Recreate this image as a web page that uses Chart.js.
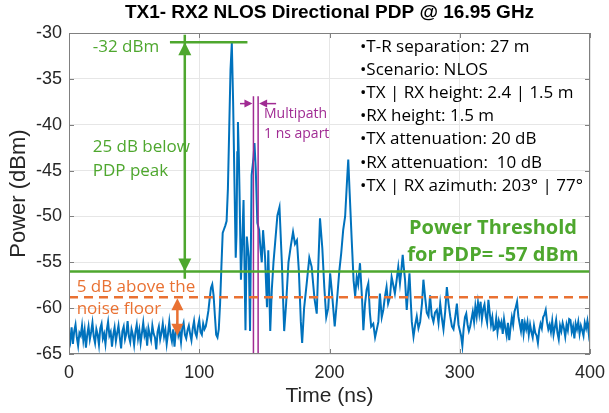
<!DOCTYPE html>
<html>
<head>
<meta charset="utf-8">
<script src="https://cdn.jsdelivr.net/npm/chart.js@4.4.1/dist/chart.umd.min.js"></script>
<style>
  html, body { margin: 0; padding: 0; background: #fff; }
  #wrap { width: 609px; height: 413px; }
</style>
</head>
<body>
<div id="wrap"><canvas id="pdpChart" width="609" height="413"></canvas></div>
<script>
// === Data ===
// noise before the first arrival, one sample per ns from 0 to 104 ns
const headPower = [
  -62.8,-63.6,-62.1,-63.9,-62.5,-61.8,-63.2,-64.1,-62.7,-63.0,
  -61.9,-63.5,-62.4,-64.3,-62.9,-62.0,-63.4,-62.6,-61.6,-63.1,
  -63.8,-62.3,-62.9,-64.0,-62.2,-61.7,-63.3,-62.8,-63.9,-62.4,
  -61.5,-63.0,-62.6,-64.2,-62.9,-62.1,-63.6,-62.7,-61.9,-63.2,
  -64.4,-62.5,-62.0,-63.4,-62.8,-61.4,-63.1,-63.7,-62.3,-62.9,
  -64.0,-62.6,-61.8,-63.3,-62.4,-63.8,-62.7,-61.6,-63.0,-62.5,
  -64.1,-62.2,-62.9,-63.5,-61.9,-62.8,-63.2,-64.5,-62.6,-62.0,
  -63.4,-62.7,-61.7,-63.1,-62.4,-63.9,-62.8,-61.5,-62.9,-63.6,
  -62.3,-64.2,-62.6,-61.8,-63.0,-62.5,-63.7,-62.1,-61.6,-62.9,
  -63.3,-62.4,-61.9,-62.8,-63.5,-62.2,-61.4,-62.7,-63.1,-62.0,
  -61.3,-62.6,-62.9,-61.7,-62.3
];

// multipath burst, uneven time steps (ns) around the peaks
const burstTime = [
  105,106,107,108,109,110,111,112,113,114,
  115,116,117,118,119,120,121,122,123,124,
  125,126,127,128,128.6,129.2,129.7,130.4,131,132,
  133,134,135,135.5,136.5,138,139,140.2,141,141.7,
  142.4,143.4,144.6,146,147,148,149,150.5,152,153,
  154.5,155.7,157,158.3,160,161.6,163.4,165.2,166.7,168.5,
  170.3,172,173.5,175,176.5,178,179,180.5,182.5,184.5,
  186.3,188.5,190.2,191.5,192.7,194.5,196,197.5,199,200.5,
  202,204,206,207.5,209,210.5,212,213.5,214.4,215.5,
  217,218.5,219.7,220.9,222,223.4,225,226,227.3,228.5,
  229.8,231,232,233.6,235,236.2,237.5,238.7,240.1,241.3,
  242.5,243.8,245,246.4,247.7,249,250.2,251.5,252.8,254.1,
  255.2,256.2,257,258,259.3,260.4,261.4,262.3,263.2,264.5,
  265.8,267,268.3,269.6,271,272.1,273.4,274.7,276,277.2,
  278.5,279.8,281,282.4,283.7,285,286.2,287.5,288.8,290.1,
  291.4,292.7,294,295.2,296.5,297.8,299,300
];
const burstPower = [
  -62.0,-61.2,-60.3,-59.0,-57.8,-57.4,-58.6,-60.8,-62.9,-63.2,
  -62.3,-59.5,-55.5,-51.8,-51.4,-51.0,-50.5,-47.0,-40.5,-34.0,
  -31.1,-37.5,-46.0,-54.5,-52.0,-43.0,-39.7,-43.5,-48.0,-56.9,
  -52.8,-48.2,-58.0,-62.4,-52.2,-54.4,-62.5,-45.5,-44.5,-43.5,
  -42.0,-44.9,-50.7,-51.5,-53.5,-55.0,-51.5,-54.4,-59.9,-53.7,
  -62.5,-58.0,-55.0,-52.8,-49.9,-49.0,-55.0,-62.5,-59.5,-55.0,
  -53.2,-51.7,-53.0,-52.6,-56.0,-61.5,-63.8,-60.0,-57.3,-54.5,
  -55.5,-59.0,-60.6,-55.0,-50.2,-53.5,-57.7,-61.0,-60.0,-56.2,
  -58.5,-62.0,-58.7,-56.0,-54.0,-51.5,-50.0,-46.0,-43.8,-47.5,
  -52.4,-57.0,-58.7,-56.6,-57.4,-55.1,-59.0,-62.4,-59.5,-58.0,
  -57.3,-60.5,-62.0,-61.7,-63.2,-62.4,-61.5,-58.4,-61.0,-60.2,
  -58.8,-57.7,-59.5,-58.8,-56.6,-57.5,-58.4,-57.0,-55.5,-57.3,
  -55.8,-54.2,-55.5,-56.9,-60.2,-58.0,-56.2,-59.0,-61.5,-63.1,
  -61.8,-60.9,-62.2,-61.5,-59.5,-56.9,-58.8,-60.5,-60.9,-58.6,
  -60.8,-61.5,-60.5,-60.2,-61.6,-59.5,-61.0,-62.3,-60.4,-57.7,
  -59.5,-60.9,-62.0,-62.3,-61.0,-59.5,-61.8,-62.4
];

// noise tail, one sample per ns from 301 to 400 ns
const tailPower = [
  -63.0,-64.1,-62.2,-61.0,-60.6,-61.8,-62.5,-62.0,-61.2,-60.4,
  -61.5,-59.8,-60.9,-59.4,-60.6,-59.3,-61.2,-60.1,-59.6,-60.9,
  -61.6,-59.1,-60.5,-61.8,-61.0,-62.4,-62.3,-61.1,-62.6,-61.4,
  -62.0,-61.5,-62.8,-61.2,-62.2,-63.0,-61.6,-63.5,-62.1,-61.0,
  -61.8,-60.4,-59.9,-59.3,-60.9,-61.7,-62.5,-61.2,-62.8,-61.6,
  -62.3,-61.5,-62.9,-61.8,-62.6,-63.2,-61.9,-62.7,-63.0,-63.8,
  -62.4,-61.7,-62.2,-61.0,-60.7,-60.2,-61.5,-62.3,-61.8,-62.6,
  -61.4,-62.9,-62.1,-61.3,-62.7,-63.4,-61.9,-62.5,-61.6,-62.2,
  -63.1,-61.8,-62.4,-61.2,-61.3,-62.6,-62.0,-63.3,-61.7,-62.3,
  -61.5,-62.8,-61.9,-62.4,-63.0,-61.6,-62.2,-61.4,-62.7,-61.3
];

const xTicks = [0, 100, 200, 300, 400];
const yTicks = [-65, -60, -55, -50, -45, -40, -35, -30];

// annotation levels (dBm) and times (ns)
const peakDbm = -31;
const thresholdDbm = -56;
const noiseMarkDbm = -58.8;
const noiseFloorDbm = -63;
const peakBarTime = [77.5, 137];
const peakArrowTime = 88.9;
const noiseArrowTime = 83.2;
const multipathTime = [141.6, 145.2];
const multipathTopDbm = -36.9;
const multipathArrowDbm = -37.7;
const multipathArrowFrom = [131.3, 159];

const infoLines = [
  '•T-R separation: 27 m',
  '•Scenario: NLOS',
  '•TX | RX height: 2.4 | 1.5 m',
  '•RX height: 1.5 m',
  '•TX attenuation: 20 dB',
  '•RX attenuation:  10 dB',
  '•TX | RX azimuth: 203° | 77°'
];

const BLUE = '#0072BD';
const GREEN = '#4EA72E';
const ORANGE = '#E97132';
const PURPLE = '#A02B93';
const ANNO_FONT = "'Open Sans', sans-serif";
const AXIS_FONT = "'Liberation Sans', Arial, sans-serif";

// === Build the trace ===
const trace = []
  .concat(headPower.map((v, i) => ({ x: i, y: v })))
  .concat(burstTime.map((t, i) => ({ x: t, y: burstPower[i] })))
  .concat(tailPower.map((v, i) => ({ x: 301 + i, y: v })));

function seg(x0, y0, x1, y1, color, width, dash) {
  return {
    data: [{ x: x0, y: y0 }, { x: x1, y: y1 }],
    borderColor: color,
    borderWidth: width,
    borderDash: dash || [],
    pointRadius: 0,
    fill: false,
    order: 1
  };
}

function head(ctx, px, py, dir, len, half, color) {
  ctx.fillStyle = color;
  ctx.beginPath();
  ctx.moveTo(px, py);
  if (dir === 'up') { ctx.lineTo(px - half, py + len); ctx.lineTo(px + half, py + len); }
  if (dir === 'down') { ctx.lineTo(px - half, py - len); ctx.lineTo(px + half, py - len); }
  if (dir === 'left') { ctx.lineTo(px + len, py - half); ctx.lineTo(px + len, py + half); }
  if (dir === 'right') { ctx.lineTo(px - len, py - half); ctx.lineTo(px - len, py + half); }
  ctx.closePath();
  ctx.fill();
}

const overlay = {
  id: 'overlay',
  afterDatasetsDraw(chart) {
    const { ctx, chartArea: a, scales: { x, y } } = chart;
    ctx.save();
    // axes box with inward ticks
    ctx.strokeStyle = '#808080';
    ctx.lineWidth = 1;
    ctx.strokeRect(a.left + 0.5, a.top + 0.5, a.right - a.left - 1, a.bottom - a.top - 1);
    ctx.beginPath();
    yTicks.forEach(v => {
      const py = Math.round(y.getPixelForValue(v)) + 0.5;
      ctx.moveTo(a.left, py); ctx.lineTo(a.left + 5, py);
      ctx.moveTo(a.right, py); ctx.lineTo(a.right - 5, py);
    });
    xTicks.forEach(v => {
      const px = Math.round(x.getPixelForValue(v)) + 0.5;
      ctx.moveTo(px, a.bottom); ctx.lineTo(px, a.bottom - 5);
      ctx.moveTo(px, a.top); ctx.lineTo(px, a.top + 5);
    });
    ctx.stroke();

    // arrow heads
    const gx = x.getPixelForValue(peakArrowTime);
    head(ctx, gx, y.getPixelForValue(peakDbm), 'up', 13, 6.5, GREEN);
    head(ctx, gx, y.getPixelForValue(thresholdDbm), 'down', 13, 6.5, GREEN);
    const ox = x.getPixelForValue(noiseArrowTime);
    head(ctx, ox, y.getPixelForValue(noiseMarkDbm) + 1, 'up', 12, 6, ORANGE);
    head(ctx, ox, y.getPixelForValue(noiseFloorDbm), 'down', 12, 6, ORANGE);
    const my = y.getPixelForValue(multipathArrowDbm);
    head(ctx, x.getPixelForValue(multipathTime[0]) - 1, my, 'right', 8, 4, PURPLE);
    head(ctx, x.getPixelForValue(multipathTime[1]) + 1, my, 'left', 8, 4, PURPLE);
    ctx.restore();
  },
  afterDraw(chart) {
    const { ctx, chartArea: a, scales: { x, y } } = chart;
    const put = (text, t, v, font, color, align) => {
      ctx.font = font;
      ctx.fillStyle = color;
      ctx.textAlign = align || 'left';
      ctx.textBaseline = 'middle';
      ctx.fillText(text, x.getPixelForValue(t), y.getPixelForValue(v));
    };
    ctx.save();
    // title
    ctx.font = 'bold 19px ' + AXIS_FONT;
    ctx.fillStyle = '#000';
    ctx.textAlign = 'center';
    ctx.textBaseline = 'middle';
    ctx.fillText('TX1- RX2 NLOS Directional PDP @ 16.95 GHz', (a.left + a.right) / 2, a.top - 20);

    const annoFont = '17px ' + ANNO_FONT;
    put('-32 dBm', 18.2, -31.5, annoFont, GREEN);
    put('25 dB below', 18.2, -42.5, annoFont, GREEN);
    put('PDP peak', 18.2, -45.1, annoFont, GREEN);
    put('5 dB above the', 5.9, -57.7, annoFont, ORANGE);
    put('noise floor', 5.9, -60.1, annoFont, ORANGE);
    put('Multipath', 149.7, -38.8, '14px ' + ANNO_FONT, PURPLE);
    put('1 ns apart', 149.7, -41.0, '14px ' + ANNO_FONT, PURPLE);

    infoLines.forEach((line, i) => {
      put(line, 223.4, -31.5 - i * 2.53, '17px ' + ANNO_FONT, '#000');
    });
    put('Power Threshold', 325.5, -51.3, 'bold 20px ' + ANNO_FONT, GREEN, 'center');
    put('for PDP= -57 dBm', 325.5, -54.2, 'bold 20px ' + ANNO_FONT, GREEN, 'center');
    ctx.restore();
  }
};

new Chart(document.getElementById('pdpChart').getContext('2d'), {
  type: 'line',
  data: {
    datasets: [
      // annotation lines (drawn on top of the trace)
      seg(0, thresholdDbm, 400, thresholdDbm, GREEN, 2.5),
      seg(0, noiseMarkDbm, 400, noiseMarkDbm, ORANGE, 2.5, [9, 6]),
      seg(peakBarTime[0], peakDbm, peakBarTime[1], peakDbm, GREEN, 2.5),
      seg(peakArrowTime, peakDbm + 0.8, peakArrowTime, thresholdDbm - 0.8, GREEN, 2.5),
      seg(noiseArrowTime, noiseMarkDbm - 0.8, noiseArrowTime, noiseFloorDbm + 0.8, ORANGE, 2.5),
      seg(multipathTime[0], multipathTopDbm, multipathTime[0], -65, PURPLE, 1.5),
      seg(multipathTime[1], multipathTopDbm, multipathTime[1], -65, PURPLE, 1.5),
      seg(multipathArrowFrom[0], multipathArrowDbm, multipathTime[0] - 3, multipathArrowDbm, PURPLE, 1.5),
      seg(multipathArrowFrom[1], multipathArrowDbm, multipathTime[1] + 3, multipathArrowDbm, PURPLE, 1.5),
      {
        label: 'PDP',
        data: trace,
        borderColor: BLUE,
        borderWidth: 2,
        pointRadius: 0,
        tension: 0,
        fill: false,
        order: 10
      }
    ]
  },
  options: {
    responsive: false,
    animation: false,
    layout: { padding: { left: 0, right: 19, top: 33, bottom: 0 } },
    plugins: { legend: { display: false }, title: { display: false }, tooltip: { enabled: false } },
    scales: {
      x: {
        type: 'linear',
        min: 0,
        max: 400,
        afterBuildTicks: s => { s.ticks = xTicks.map(v => ({ value: v })); },
        afterFit: s => { s.height = 59; s.paddingLeft = 0; s.paddingRight = 0; },
        grid: { color: '#e6e6e6', drawTicks: false },
        border: { display: false },
        ticks: { color: '#262626', font: { family: AXIS_FONT, size: 18 }, padding: 8, maxRotation: 0 },
        title: { display: true, text: 'Time (ns)', color: '#262626', font: { family: AXIS_FONT, size: 21 }, padding: { top: 2 } }
      },
      y: {
        type: 'linear',
        min: -65,
        max: -30,
        afterBuildTicks: s => { s.ticks = yTicks.map(v => ({ value: v })); },
        afterFit: s => { s.width = 69; s.paddingTop = 0; s.paddingBottom = 0; },
        grid: { color: '#e6e6e6', drawTicks: false },
        border: { display: false },
        ticks: { color: '#262626', font: { family: AXIS_FONT, size: 18 }, padding: 7 },
        title: { display: true, text: 'Power (dBm)', color: '#262626', font: { family: AXIS_FONT, size: 22 }, padding: { top: 6, bottom: 0 } }
      }
    }
  },
  plugins: [overlay]
});
</script>
</body>
</html>
